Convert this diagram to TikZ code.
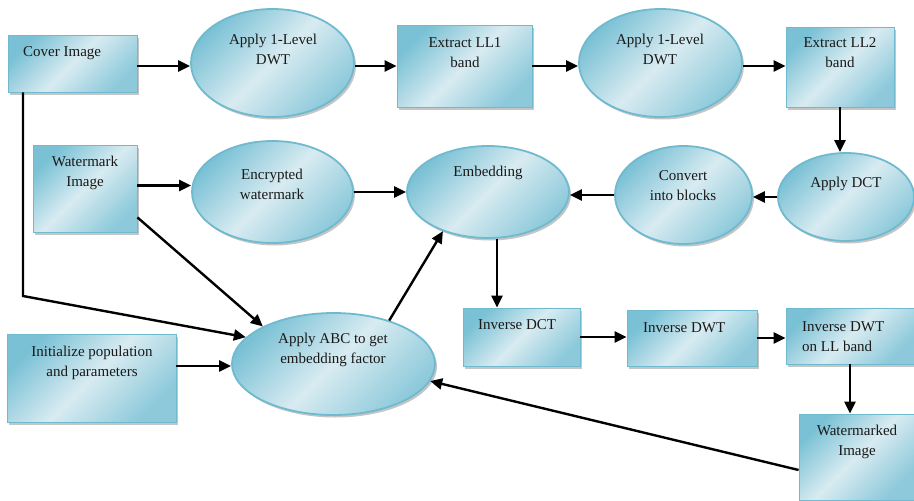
\documentclass[tikz,border=0pt]{standalone}
\usepackage{fontspec}
\setmainfont{Liberation Serif}
\usepackage{tikz}
\usetikzlibrary{arrows.meta}
\usetikzlibrary{positioning,shadows}
\usetikzlibrary{shapes.geometric,calc}
\definecolor{boxedge}{RGB}{112,186,208}
\definecolor{boxdeep}{RGB}{122,193,213}
\definecolor{boxlight}{RGB}{216,235,241}
\definecolor{inkgray}{RGB}{25,25,25}

\begin{document}
\begin{tikzpicture}[x=1pt,y=-1pt,
    every node/.style={font=\fontsize{15}{20}\selectfont,text=inkgray},
    fillblue/.style={top color=boxdeep,bottom color=boxdeep!80!boxlight,
      middle color=boxlight,shading angle=45,
      drop shadow={shadow xshift=2pt,shadow yshift=-2.5pt,fill=black!45,opacity=0.5}},
    box/.style={fillblue,draw=boxedge,line width=0.8pt,rectangle,inner sep=0pt},
    oval/.style={fillblue,draw=boxedge,line width=1.8pt,ellipse,inner sep=0pt},
    txt/.style={align=center,inner sep=0pt},
    arr/.style={-{Triangle[length=12pt,width=11pt]},line width=2.4pt}]
    \useasboundingbox (0,0) rectangle (914,501);
    % first row
    \node[box,minimum width=129pt,minimum height=57pt] (cover) at (72.5,63.5) {};
    \node[txt,anchor=west] (cover-t) at (23,53) {Cover Image};
    \node[oval,minimum width=163pt,minimum height=108pt] (dwt1) at (272.5,63) {};
    \node[txt] (dwt1-t) at (273,49) {Apply 1-Level\\DWT};
    \node[box,minimum width=135pt,minimum height=82pt] (ll1) at (464.5,66) {};
    \node[txt] (ll1-t) at (465,53) {Extract LL1\\band};
    \node[oval,minimum width=163pt,minimum height=108pt] (dwt2) at (660.5,63) {};
    \node[txt] (dwt2-t) at (660,49) {Apply 1-Level\\DWT};
    \node[box,minimum width=108pt,minimum height=80pt] (ll2) at (840,67) {};
    \node[txt] (ll2-t) at (840,53) {Extract LL2\\band};
    % second row
    \node[box,minimum width=104pt,minimum height=87pt] (wm) at (85,188.5) {};
    \node[txt] (wm-t) at (85,173) {Watermark\\Image};
    \node[oval,minimum width=161pt,minimum height=102pt] (enc) at (272.5,192) {};
    \node[txt] (enc-t) at (272,184) {Encrypted\\watermark};
    \node[oval,minimum width=162pt,minimum height=92pt] (embed) at (488,192) {};
    \node[txt] (embed-t) at (488,173) {Embedding};
    \node[oval,minimum width=137pt,minimum height=98pt] (conv) at (683.5,195) {};
    \node[txt] (conv-t) at (683,186) {Convert\\into blocks};
    \node[oval,minimum width=136pt,minimum height=88pt] (dct) at (846,197) {};
    \node[txt] (dct-t) at (846,184) {Apply DCT};
    % third row
    \node[box,minimum width=169pt,minimum height=88pt] (init) at (91.5,378) {};
    \node[txt] (init-t) at (92,363) {Initialize population\\and parameters};
    \node[oval,minimum width=203pt,minimum height=102pt] (abc) at (333.5,364) {};
    \node[txt] (abc-t) at (333,350) {Apply ABC to get\\embedding factor};
    \node[box,minimum width=117pt,minimum height=58pt] (invdct) at (521.5,337) {};
    \node[txt,anchor=west] (invdct-t) at (478,325) {Inverse DCT};
    \node[box,minimum width=130pt,minimum height=56pt] (invdwt) at (692,338) {};
    \node[txt,anchor=west] (invdwt-t) at (643,328) {Inverse DWT};
    \node[box,minimum width=128pt,minimum height=56pt] (invll) at (850,336) {};
    \node[txt,anchor=west,align=left] (invll-t) at (802,336.5) {Inverse DWT\\on LL band};
    \node[box,minimum width=115pt,minimum height=86pt] (wmd) at (856.5,457) {};
    \node[txt] (wmd-t) at (857,442) {Watermarked\\Image};
    % arrows
    \draw[arr] (cover.east |- ll1) -- (dwt1.west |- ll1);
    \draw[arr] (dwt1.east |- ll1) -- (ll1.west);
    \draw[arr] (ll1.east) -- (dwt2.west |- ll1);
    \draw[arr] (dwt2.east |- ll1) -- (ll2.west |- ll1);
    \draw[arr] (ll2.south) -- (ll2.south |- dct.north);
    \draw[arr] (dct.west) -- (conv.east |- dct.west);
    \draw[arr] (conv.west) -- (embed.east |- conv.west);
    \draw[arr] ([yshift=3pt]wm.east) coordinate (wmout) -- (enc.west |- wmout);
    \draw[arr] (enc.east) -- (embed.west);
    \draw[arr] ([xshift=9pt]embed.south) -- ([xshift=9pt]embed.south |- invdct.north);
    \draw[arr] (invdct.east) -- (invdwt.west |- invdct.east);
    \draw[arr] (invdwt.east) -- (invll.west |- invdwt.east);
    \draw[arr] (invll.south) -- (invll.south |- wmd.north);
    % into the ABC step
    \coordinate (bend) at (23,296);
    \draw[arr] (cover.south -| bend) -- (bend) -- (abc.163);
    \draw[arr] ([yshift=15pt]wm.south east) -- (abc.152);
    \draw[arr] ([yshift=12pt]init.east) -- ([yshift=-2pt]abc.west);
    \draw[arr] ([yshift=-13pt]wmd.west) -- (abc.350);
    \draw[arr] (abc.38) -- (embed.221);
  \end{tikzpicture}
\end{document}
